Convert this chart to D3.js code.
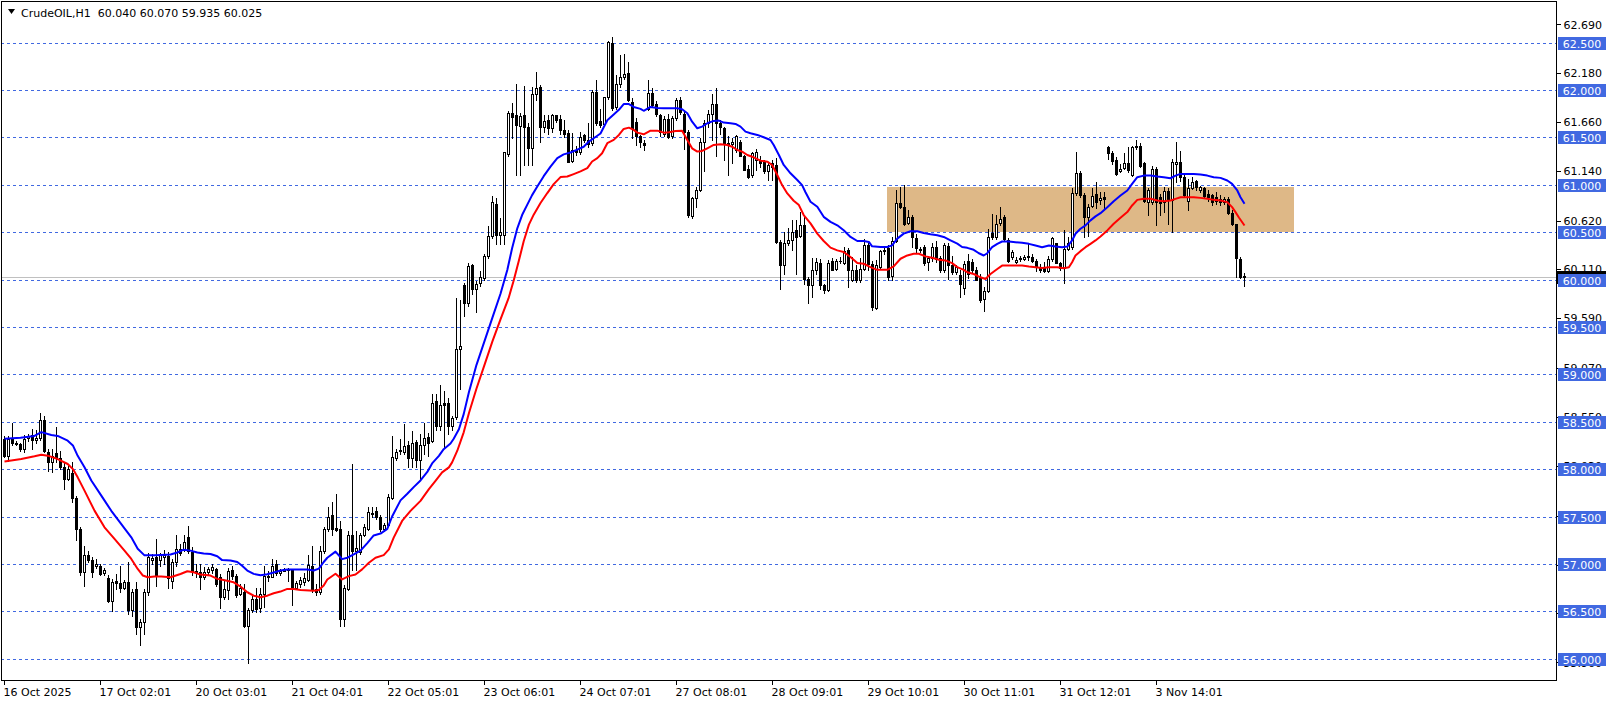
<!DOCTYPE html>
<html><head><meta charset="utf-8">
<script src="https://cdn.jsdelivr.net/npm/d3@7"></script>
<style>html,body{margin:0;padding:0;background:#fff;overflow:hidden}</style>
</head><body><svg id="c" width="1614" height="704"></svg>
<script>
// [open, high, low, close] per H1 bar
const candles = [
[58.32,58.35,58.13,58.14],[58.14,58.35,58.09,58.32],[58.32,58.49,58.25,58.28],[58.28,58.30,58.25,58.26],[58.26,58.28,58.19,58.21],
[58.21,58.36,58.18,58.32],[58.33,58.37,58.30,58.35],[58.36,58.42,58.21,58.31],[58.31,58.41,58.28,58.33],[58.33,58.59,58.31,58.52],
[58.52,58.56,58.18,58.19],[58.18,58.21,57.98,58.07],[58.07,58.21,57.97,58.14],[58.17,58.44,58.07,58.12],[58.12,58.19,58.00,58.02],
[58.02,58.07,57.79,57.90],[57.90,58.03,57.88,58.00],[57.96,58.07,57.65,57.69],[57.69,57.72,57.25,57.37],[57.37,57.39,56.88,56.91],
[56.91,57.19,56.77,57.09],[57.09,57.14,57.02,57.04],[57.04,57.07,56.86,56.91],[56.98,57.05,56.96,57.00],[56.98,57.00,56.88,56.89],
[56.90,56.96,56.88,56.94],[56.85,56.88,56.60,56.61],[56.61,56.84,56.50,56.81],[56.82,56.89,56.74,56.80],[56.80,56.98,56.70,56.75],
[56.75,56.83,56.74,56.81],[56.81,57.02,56.47,56.51],[56.51,56.74,56.45,56.70],[56.73,56.81,56.26,56.33],[56.33,56.42,56.14,56.39],
[56.39,56.74,56.26,56.70],[56.70,57.12,56.67,57.07],[57.04,57.10,57.00,57.06],[57.07,57.26,56.77,56.88],[57.04,57.12,56.98,57.09],
[57.07,57.15,57.00,57.09],[57.08,57.13,56.75,56.85],[56.82,57.05,56.75,57.02],[57.02,57.30,56.98,57.16],[57.16,57.21,57.09,57.12],
[57.16,57.30,57.14,57.23],[57.28,57.40,57.12,57.14],[57.13,57.18,56.88,56.93],[56.93,57.00,56.86,56.91],[56.91,57.00,56.74,56.86],
[56.86,56.97,56.84,56.91],[56.91,56.97,56.88,56.95],[56.94,57.00,56.90,56.97],[56.95,56.96,56.77,56.79],[56.86,56.89,56.54,56.65],
[56.65,56.82,56.63,56.74],[56.72,56.96,56.63,56.93],[56.94,56.98,56.84,56.87],[56.87,56.89,56.65,56.67],[56.68,56.79,56.67,56.75],
[56.70,56.79,56.33,56.35],[56.34,56.54,55.95,56.51],[56.51,56.66,56.49,56.63],[56.63,56.75,56.49,56.52],[56.53,56.75,56.49,56.68],
[56.68,56.98,56.55,56.87],[56.87,56.93,56.82,56.86],[56.86,57.05,56.86,56.98],[57.00,57.04,56.88,56.90],[56.90,56.95,56.88,56.93],
[56.93,56.96,56.92,56.95],[56.94,56.96,56.82,56.95],[56.94,56.95,56.57,56.75],[56.75,56.82,56.73,56.80],[56.79,56.86,56.76,56.83],
[56.81,56.90,56.78,56.85],[56.83,57.09,56.82,56.99],[56.98,57.19,56.70,56.72],[56.74,56.79,56.67,56.70],[56.70,57.19,56.68,57.14],
[57.14,57.39,57.12,57.37],[57.37,57.60,57.35,57.50],[57.52,57.65,57.31,57.37],[57.38,57.74,57.35,57.36],[57.37,57.45,56.35,56.42],
[56.42,56.78,56.35,56.75],[56.74,57.35,56.72,57.30],[57.30,58.05,56.94,57.14],[57.14,57.35,56.94,57.17],[57.13,57.33,57.10,57.31],
[57.30,57.42,57.29,57.39],[57.37,57.60,57.36,57.55],[57.54,57.60,57.49,57.53],[57.56,57.60,57.47,57.50],[57.50,57.52,57.35,57.37],
[57.37,57.43,57.35,57.41],[57.41,57.74,57.40,57.71],[57.70,58.35,57.68,58.13],[58.12,58.21,58.10,58.18],[58.19,58.32,58.16,58.20],
[58.18,58.48,58.16,58.24],[58.25,58.30,58.02,58.12],[58.12,58.40,58.02,58.28],[58.29,58.31,58.02,58.10],[58.10,58.37,57.90,58.25],
[58.25,58.49,58.16,58.33],[58.34,58.38,58.14,58.28],[58.30,58.79,58.29,58.70],[58.72,58.79,58.41,58.45],[58.45,58.89,58.41,58.68],
[58.70,58.82,58.23,58.68],[58.70,58.75,58.37,58.45],[58.45,58.56,58.41,58.54],[58.55,59.80,58.53,59.27],[59.27,59.78,58.85,59.30],
[59.94,59.96,59.62,59.75],[59.75,60.17,59.72,60.14],[60.15,60.16,59.85,59.90],[59.90,59.98,59.66,59.95],[59.96,60.09,59.93,60.03],
[60.02,60.27,60.00,60.25],[60.25,60.56,60.23,60.46],[60.46,60.88,60.44,60.82],[60.80,60.86,60.37,60.47],[60.47,60.65,60.37,60.50],
[60.47,61.35,60.37,61.34],[61.32,61.78,61.30,61.76],[61.76,61.86,61.49,61.71],[61.74,62.06,61.10,61.63],[61.62,61.76,61.10,61.72],
[61.74,62.04,61.21,61.61],[61.61,61.65,61.21,61.39],[61.39,62.03,61.21,61.96],[61.96,62.19,61.89,62.02],[62.03,62.05,61.45,61.61],
[61.61,61.74,61.56,61.67],[61.68,61.74,61.54,61.60],[61.60,61.75,61.56,61.73],[61.73,61.74,61.66,61.68],[61.69,61.74,61.54,61.58],
[61.58,61.68,61.50,61.54],[61.55,61.58,61.24,61.24],[61.25,61.55,61.24,61.37],[61.37,61.41,61.31,61.35],[61.35,61.56,61.32,61.50],
[61.52,61.54,61.45,61.47],[61.47,61.65,61.40,61.43],[61.44,62.00,61.42,61.98],[61.98,62.10,61.63,61.65],[61.67,61.80,61.61,61.63],
[61.64,61.93,61.63,61.92],[61.92,62.52,61.90,62.51],[62.50,62.56,61.79,61.81],[61.82,62.16,61.80,62.06],[62.06,62.37,62.03,62.14],
[62.14,62.38,62.12,62.17],[62.18,62.29,61.88,61.89],[61.87,61.91,61.49,61.60],[61.66,61.70,61.42,61.51],[61.51,61.52,61.40,61.45],
[61.44,61.47,61.37,61.42],[61.80,62.10,61.79,61.97],[61.97,62.02,61.82,61.84],[61.85,61.88,61.72,61.75],[61.74,61.75,61.51,61.56],
[61.53,61.72,61.51,61.69],[61.69,61.75,61.49,61.50],[61.51,61.72,61.49,61.70],[61.70,61.91,61.68,61.89],[61.89,61.93,61.75,61.77],
[61.75,61.77,61.38,61.56],[61.56,61.58,60.66,60.68],[60.67,60.87,60.65,60.86],[60.86,60.98,60.77,60.94],[60.94,61.49,60.93,61.45],
[61.45,61.68,61.14,61.65],[61.65,61.79,61.61,61.75],[61.75,61.96,61.47,61.85],[61.85,62.02,61.30,61.65],[61.65,61.68,61.54,61.61],
[61.60,61.61,61.26,61.44],[61.44,61.51,61.10,61.42],[61.43,61.49,61.23,61.45],[61.37,61.52,61.35,61.51],[61.45,61.47,61.30,61.30],
[61.30,61.31,61.15,61.16],[61.17,61.21,61.07,61.08],[61.10,61.35,61.08,61.33],[61.26,61.38,61.15,61.35],[61.26,61.30,61.19,61.23],
[61.24,61.26,61.12,61.14],[61.14,61.23,61.05,61.21],[61.23,61.26,61.05,61.19],[61.21,61.28,60.38,60.40],[60.40,60.42,59.90,60.15],
[60.15,60.50,60.06,60.39],[60.38,60.54,60.36,60.42],[60.42,60.63,60.31,60.50],[60.52,60.63,60.06,60.45],[60.46,60.71,60.45,60.57],
[60.58,60.66,59.95,60.01],[60.01,60.03,59.75,59.94],[59.94,60.23,59.82,60.10],[60.10,60.23,60.06,60.18],[60.17,60.22,59.90,59.94],
[59.94,59.95,59.86,59.89],[59.89,60.21,59.88,60.17],[60.20,60.23,60.10,60.10],[60.11,60.22,60.10,60.19],[60.19,60.24,60.17,60.20],
[60.17,60.34,60.16,60.30],[60.31,60.33,59.92,60.10],[59.99,60.24,59.98,60.10],[60.10,60.15,59.97,59.99],[59.99,60.23,59.97,60.11],
[60.11,60.43,60.10,60.36],[60.36,60.38,60.10,60.16],[60.16,60.20,59.68,59.71],[59.70,60.21,59.69,60.15],[60.13,60.31,60.11,60.30],
[60.30,60.33,60.27,60.31],[60.33,60.36,60.00,60.03],[60.04,60.45,60.00,60.41],[60.41,60.94,60.40,60.81],[60.81,60.98,60.75,60.77],
[60.77,61.00,60.57,60.59],[60.60,60.73,60.59,60.66],[60.66,60.68,60.34,60.45],[60.44,60.48,60.29,60.33],[60.32,60.34,60.29,60.31],
[60.34,60.36,60.15,60.17],[60.18,60.25,60.10,60.23],[60.23,60.38,60.20,60.34],[60.34,60.41,60.18,60.22],[60.23,60.25,60.08,60.10],
[60.10,60.38,60.08,60.36],[60.35,60.38,60.01,60.15],[60.15,60.25,60.06,60.08],[60.08,60.15,60.06,60.13],[60.05,60.10,59.82,59.95],
[59.91,60.20,59.85,60.16],[60.20,60.27,60.02,60.06],[60.18,60.22,60.08,60.10],[60.10,60.13,59.99,60.00],[60.02,60.06,59.76,59.78],
[59.79,59.92,59.67,59.88],[59.88,60.53,59.87,60.45],[60.49,60.69,60.43,60.45],[60.45,60.68,60.43,60.59],[60.60,60.76,60.57,60.64],
[60.66,60.68,60.42,60.43],[60.42,60.44,60.18,60.20],[60.24,60.31,60.22,60.29],[60.18,60.24,60.17,60.21],[60.22,60.25,60.20,60.23],
[60.22,60.26,60.21,60.24],[60.24,60.38,60.21,60.25],[60.24,60.27,60.18,60.20],[60.20,60.22,60.09,60.13],[60.13,60.16,60.08,60.10],
[60.13,60.18,60.08,60.09],[60.09,60.25,60.08,60.22],[60.22,60.45,60.20,60.44],[60.38,60.39,60.17,60.17],[60.17,60.18,60.10,60.12],
[60.12,60.52,59.96,60.32],[60.32,60.45,60.31,60.38],[60.34,60.96,60.32,60.91],[60.91,61.35,60.89,61.12],[61.12,61.14,60.87,60.89],
[60.89,60.91,60.45,60.66],[60.66,60.80,60.46,60.77],[60.78,60.96,60.76,60.88],[60.90,61.03,60.75,60.82],[60.84,60.92,60.80,60.86],
[60.87,60.92,60.75,60.85],[61.40,61.41,61.27,61.33],[61.33,61.36,61.22,61.25],[61.26,61.29,61.10,61.11],[61.14,61.22,61.13,61.17],
[61.18,61.33,61.17,61.23],[61.23,61.40,61.13,61.16],[61.10,61.41,61.09,61.40],[61.40,61.47,61.38,61.41],[61.41,61.44,61.19,61.20],
[61.23,61.24,60.82,60.83],[60.82,60.97,60.68,60.94],[60.82,61.20,60.80,61.17],[61.17,61.19,60.57,60.82],[60.87,60.90,60.68,60.81],
[60.82,60.98,60.71,60.93],[60.93,60.96,60.59,60.84],[60.84,61.27,60.50,61.24],[61.22,61.45,61.03,61.24],[61.24,61.36,61.04,61.08],
[61.08,61.10,60.87,60.89],[60.83,61.06,60.73,60.97],[60.97,61.08,60.95,61.03],[61.04,61.05,60.94,60.98],[60.94,60.99,60.92,60.98],
[60.97,60.98,60.86,60.88],[60.90,60.94,60.83,60.87],[60.89,60.90,60.79,60.82],[60.87,60.92,60.80,60.83],[60.85,60.89,60.79,60.82],
[60.82,60.87,60.80,60.85],[60.85,60.87,60.69,60.70],[60.70,60.73,60.57,60.59],[60.59,60.59,60.03,60.23],[60.22,60.24,60.02,60.03],
[60.04,60.07,59.935,60.025]
];

// indicator lines: [bar index, price]
const maUpper = [
[0,58.32],[4,58.33],[7.5,58.35],[9.2,58.39],[11.7,58.36],[13.3,58.35],[15.8,58.30],[17.1,58.25],[18.3,58.14],[20,58.02],
[21.7,57.88],[24.2,57.72],[26.7,57.56],[29.2,57.42],[31.7,57.28],[33.3,57.16],[35,57.09],[37.5,57.09],[39.2,57.095],[41.5,57.10],
[43.2,57.12],[44.8,57.15],[46.5,57.14],[48.2,57.12],[49.8,57.11],[51.5,57.105],[53.2,57.08],[54.4,57.04],[56.5,57.035],[58.2,57.02],
[59.4,56.98],[60.7,56.93],[62.3,56.895],[64,56.88],[65.7,56.89],[67.3,56.91],[69,56.93],[70.7,56.94],[74,56.94],[75.7,56.94],
[77.3,56.93],[78.6,56.95],[79.8,57.02],[80.7,57.065],[82.75,57.13],[84.4,57.05],[85.7,57.065],[87.3,57.10],[89,57.14],[90.7,57.22],
[92.3,57.30],[94,57.32],[95.7,57.37],[96.9,57.50],[99,57.67],[100.7,57.74],[102.3,57.81],[104,57.88],[105.7,57.97],[106.9,58.06],
[108.6,58.14],[109.8,58.21],[111.5,58.27],[112.3,58.32],[113.6,58.42],[114.8,58.58],[116.1,58.81],[118,59.10],[120,59.35],[122,59.60],
[124,59.85],[125.7,60.10],[126.9,60.33],[128.2,60.54],[129.4,60.68],[130.7,60.79],[131.9,60.89],[133.2,60.98],[134.8,61.09],[136.5,61.19],
[138.2,61.28],[139.8,61.32],[141.5,61.34],[143.2,61.37],[144.8,61.40],[146.1,61.455],[147.3,61.49],[149,61.54],[150.7,61.68],[152.3,61.74],
[153.6,61.79],[154.8,61.85],[156.1,61.85],[157.3,61.82],[159,61.80],[159.8,61.78],[161.5,61.82],[163.2,61.81],[164.8,61.806],[168.2,61.806],
[169.4,61.796],[170.7,61.754],[171.9,61.665],[173.2,61.595],[174.4,61.613],[175.7,61.648],[177.3,61.673],[178.6,61.676],[179.8,61.655],[181.5,61.648],
[182.75,61.641],[184,61.613],[185.25,61.56],[186.5,61.542],[188.2,61.525],[189.8,61.50],[191.5,61.472],[192.3,61.419],[193.6,61.313],[194.8,61.208],
[196.5,61.12],[198.2,61.049],[199.4,60.996],[200.25,60.92],[201.5,60.82],[203.2,60.767],[204.8,60.661],[206.5,60.608],[208.2,60.572],[209.8,60.519],
[211.5,60.449],[213.2,60.406],[214.8,60.406],[216.1,60.396],[216.9,60.35],[219,60.343],[220.7,60.343],[221.9,60.36],[223.2,60.431],[224.8,60.484],
[226.5,60.509],[228.2,60.509],[229.8,60.491],[231.5,60.477],[233.2,60.466],[234.8,60.449],[236.5,60.413],[238.2,60.378],[239.4,60.343],[240.7,60.334],
[242.3,60.313],[243.6,60.277],[244.8,60.253],[245.7,60.277],[246.9,60.341],[248.2,60.376],[249.4,60.401],[251.1,60.401],[252.75,60.394],[254.4,60.387],
[256.1,60.376],[257.75,60.359],[259.4,60.341],[261.1,60.359],[262.75,60.348],[264.4,60.341],[265.7,60.348],[266.9,60.412],[267.75,60.482],[269,60.535],
[270.25,60.571],[271.5,60.624],[272.75,60.666],[274,60.70],[275.7,60.763],[277.3,60.826],[279,60.886],[280.7,60.939],[281.9,61.009],[283.2,61.079],
[284.8,61.096],[286.5,61.096],[288.2,61.086],[289.8,61.079],[291.5,61.068],[292.75,61.096],[294,61.114],[297.3,61.114],[299,61.107],[300.7,61.096],
[302.3,61.079],[304,61.072],[305.7,61.044],[306.9,61.009],[308.2,60.939],[309,60.868],[310,60.80]
];
const maLower = [
[0,58.08],[4.2,58.106],[7.5,58.135],[9.2,58.152],[10.8,58.142],[13.3,58.106],[15.8,58.054],[17.1,58.00],[18.3,57.913],[20,57.773],
[22.5,57.562],[25,57.386],[27.5,57.263],[30,57.14],[31.7,57.052],[33.3,56.947],[34.6,56.877],[35.8,56.859],[37.5,56.866],[39.2,56.866],
[41.5,56.859],[44,56.894],[45.7,56.923],[47.3,56.912],[49,56.887],[51.5,56.877],[53.2,56.842],[54.8,56.831],[57.3,56.806],[59,56.761],
[60.7,56.701],[62.3,56.665],[64,56.648],[65.7,56.665],[67.3,56.69],[69,56.708],[70.7,56.736],[72.3,56.736],[74,56.725],[77.3,56.718],
[78.6,56.725],[79.8,56.771],[80.7,56.836],[82.75,56.896],[84.4,56.836],[86.1,56.871],[87.75,56.889],[89.4,56.942],[91.1,57.012],[92.75,57.065],
[94.8,57.093],[96.1,57.153],[97.3,57.277],[99.4,57.453],[101.5,57.559],[104,57.665],[106.1,57.789],[107.75,57.877],[109.4,57.965],[111.1,58.018],
[111.9,58.071],[113.2,58.194],[114.8,58.388],[116.1,58.589],[118,58.85],[120,59.10],[122,59.35],[124,59.58],[126,59.80],[127.3,59.99],
[128.6,60.20],[129.8,60.403],[131.1,60.579],[132.3,60.684],[134,60.807],[135.7,60.912],[137.3,61.006],[139,61.08],[140.7,61.087],[142.3,61.112],
[144,61.14],[145.7,61.175],[146.9,61.245],[148.2,61.28],[149.4,61.332],[150.7,61.438],[152.3,61.473],[153.6,61.525],[154.8,61.588],[156.1,61.602],
[157.3,61.578],[158.2,61.549],[159.8,61.532],[161.5,61.57],[163.2,61.57],[164.8,61.549],[166.1,61.553],[167.75,61.567],[169.4,61.57],[170.7,61.472],
[171.9,61.384],[173.2,61.349],[174.4,61.356],[175.7,61.384],[177.3,61.419],[179,61.426],[180.7,61.419],[181.9,61.401],[183.2,61.366],[184.4,61.349],
[185.7,61.313],[187.3,61.289],[189,61.254],[190.7,61.243],[191.9,61.208],[193.2,61.102],[194.4,60.996],[195.7,60.908],[197.3,60.831],[198.6,60.785],
[199.8,60.68],[201.5,60.592],[203.2,60.484],[204.8,60.406],[206.5,60.336],[208.2,60.307],[209.8,60.29],[211.5,60.237],[213.2,60.173],[214.8,60.166],
[216.5,60.131],[218.2,60.102],[220.7,60.102],[222.3,60.138],[224,60.219],[225.7,60.254],[227.3,60.272],[228.6,60.272],[230.25,60.244],[231.9,60.23],
[233.6,60.208],[235.25,60.201],[236.9,60.173],[238.2,60.131],[239.8,60.102],[240.7,60.076],[242.3,60.058],[244,60.023],[245.25,60.005],[246.5,60.058],
[248.2,60.111],[249.4,60.147],[254.4,60.147],[256.1,60.136],[257.75,60.129],[259.4,60.122],[261.1,60.129],[263.2,60.129],[264.8,60.118],[266.1,60.129],
[266.9,60.182],[267.75,60.253],[269,60.299],[270.25,60.341],[271.5,60.376],[272.75,60.412],[274,60.454],[275.7,60.518],[277.3,60.588],[279,60.651],
[280.7,60.711],[281.9,60.781],[283.2,60.84],[284.8,60.851],[286.5,60.851],[288.2,60.833],[289.8,60.826],[291.5,60.833],[292.75,60.851],[294,60.868],
[297.3,60.868],[299,60.861],[300.7,60.851],[302.3,60.84],[304,60.833],[305.7,60.816],[306.9,60.763],[307.75,60.711],[308.6,60.654],[310,60.57]
];

const priceTicks = [62.690,62.180,61.660,61.140,60.620,60.110,59.590,59.070,58.550,58.030,57.510,56.990,56.480,55.960];
const levels = [62.5,62.0,61.5,61.0,60.5,60.0,59.5,59.0,58.5,58.0,57.5,57.0,56.5,56.0];
const dateBars = [0,24,48,72,96,120,144,168,192,216,240,264,288];
const dateLabels = ["16 Oct 2025","17 Oct 02:01","20 Oct 03:01","21 Oct 04:01","22 Oct 05:01","23 Oct 06:01","24 Oct 07:01","27 Oct 08:01","28 Oct 09:01","29 Oct 10:01","30 Oct 11:01","31 Oct 12:01","3 Nov 14:01"];
const bidPrice = 60.025;
const legendText = "CrudeOIL,H1  60.040 60.070 59.935 60.025";
const zoneBars = [220.7, 322.5];
const zonePrices = [61.0, 60.5];

const FONT = "'DejaVu Sans', sans-serif";
const W = 1614, H = 704;
const plotL = 1, plotR = 1556, plotT = 1, plotB = 680;
const levelColor = "#4169E1";

const svg = d3.select("#c");
svg.append("rect").attr("width", W).attr("height", H).attr("fill", "#fff");

const x = d3.scaleLinear().domain([0, 310]).range([4, 1244]);
const y = d3.scaleLinear().domain([56, 62.5]).range([658.7, 42.5]);

const plot = svg.append("g");
plot.append("clipPath").attr("id", "clip").append("rect")
  .attr("x", plotL + 1).attr("y", plotT + 1).attr("width", plotR - plotL - 1).attr("height", plotB - plotT - 1);
const inner = plot.append("g").attr("clip-path", "url(#clip)");

// zone rectangle
inner.append("rect")
  .attr("x", Math.round(x(zoneBars[0]))).attr("y", Math.round(y(zonePrices[0])) + 2)
  .attr("width", Math.round(x(zoneBars[1]) - x(zoneBars[0])))
  .attr("height", Math.round(y(zonePrices[1]) - y(zonePrices[0])) - 2)
  .attr("fill", "#DEB887");

// level lines
inner.selectAll("line.lvl").data(levels).join("line").attr("class", "lvl")
  .attr("x1", plotL).attr("x2", plotR)
  .attr("y1", d => Math.round(y(d)) + 0.5).attr("y2", d => Math.round(y(d)) + 0.5)
  .attr("stroke", levelColor).attr("stroke-width", 1).attr("stroke-dasharray", "3,3")
  .attr("shape-rendering", "crispEdges");

// bid line
inner.append("line").attr("x1", plotL).attr("x2", plotR)
  .attr("y1", Math.round(y(bidPrice)) + 0.5).attr("y2", Math.round(y(bidPrice)) + 0.5)
  .attr("stroke", "#C0C0C0").attr("stroke-width", 1).attr("shape-rendering", "crispEdges");

// candles
const cg = inner.append("g").attr("shape-rendering", "crispEdges");
candles.forEach((c, i) => {
  const [o, h, l, cl] = c;
  const cx = Math.round(x(i));
  const yh = Math.round(y(h)), yl = Math.round(y(l));
  cg.append("line").attr("x1", cx + 0.5).attr("x2", cx + 0.5).attr("y1", yh).attr("y2", yl + 1)
    .attr("stroke", "#000").attr("stroke-width", 1);
  const yo = Math.round(y(o)), yc = Math.round(y(cl));
  const top = Math.min(yo, yc), bot = Math.max(yo, yc);
  if (bot - top < 1) {
    cg.append("rect").attr("x", cx - 1).attr("y", top).attr("width", 3).attr("height", 1).attr("fill", "#000");
  } else if (cl >= o) {
    cg.append("rect").attr("x", cx - 0.5).attr("y", top + 0.5).attr("width", 2).attr("height", bot - top)
      .attr("fill", "#fff").attr("stroke", "#000").attr("stroke-width", 1);
  } else {
    cg.append("rect").attr("x", cx - 1).attr("y", top).attr("width", 3).attr("height", bot - top + 1).attr("fill", "#000");
  }
});

// indicator lines
const line = d3.line().x(d => x(d[0]) + 0.5).y(d => y(d[1]));
inner.append("path").datum(maLower).attr("d", line).attr("fill", "none").attr("stroke", "#FF0000").attr("stroke-width", 2).attr("stroke-linejoin", "round");
inner.append("path").datum(maUpper).attr("d", line).attr("fill", "none").attr("stroke", "#0000FF").attr("stroke-width", 2).attr("stroke-linejoin", "round");

// frame
svg.append("rect").attr("x", plotL + 0.5).attr("y", plotT + 0.5)
  .attr("width", plotR - plotL).attr("height", plotB - plotT)
  .attr("fill", "none").attr("stroke", "#000").attr("stroke-width", 1).attr("shape-rendering", "crispEdges");

// right price axis
const yAxis = svg.append("g").attr("transform", `translate(${plotR + 0.5},0)`)
  .call(d3.axisRight(y).tickValues(priceTicks).tickFormat(d3.format(".3f")).tickSize(4).tickPadding(3));
yAxis.select(".domain").remove();
yAxis.selectAll("line").attr("stroke", "#000").attr("shape-rendering", "crispEdges");
yAxis.selectAll("text").attr("font-family", FONT).attr("font-size", 11).attr("fill", "#000");

// bid marker (mostly hidden behind level label)
svg.append("rect").attr("x", plotR + 1).attr("y", Math.round(y(bidPrice)) - 6).attr("width", 49).attr("height", 13).attr("fill", "#000");

// level labels
const lv = svg.append("g");
levels.forEach(p => {
  const yy = Math.round(y(p));
  lv.append("rect").attr("x", plotR + 2).attr("y", yy - 6).attr("width", 48).attr("height", 13).attr("fill", levelColor);
  lv.append("text").attr("x", plotR + 26).attr("y", yy + 4.5).attr("text-anchor", "middle")
    .attr("font-family", FONT).attr("font-size", 11).attr("fill", "#fff").text(d3.format(".3f")(p));
});

// bottom time axis
const xAxis = svg.append("g").attr("transform", `translate(0,${plotB + 0.5})`)
  .call(d3.axisBottom(x).tickValues(dateBars).tickFormat((d, i) => dateLabels[i]).tickSize(4).tickPadding(4));
xAxis.select(".domain").remove();
xAxis.selectAll("line").attr("stroke", "#000").attr("shape-rendering", "crispEdges").attr("transform", "translate(-0.5,0)");
xAxis.selectAll("text").attr("font-family", FONT).attr("font-size", 11).attr("fill", "#000").attr("text-anchor", "start").attr("dx", -1);

// legend
svg.append("path").attr("d", "M8,9 L15,9 L11.5,14 Z").attr("fill", "#000");
svg.append("text").attr("x", 21).attr("y", 17).attr("font-family", FONT).attr("font-size", 11).attr("fill", "#000")
  .attr("xml:space", "preserve").style("white-space", "pre").text(legendText);
</script></body></html>
